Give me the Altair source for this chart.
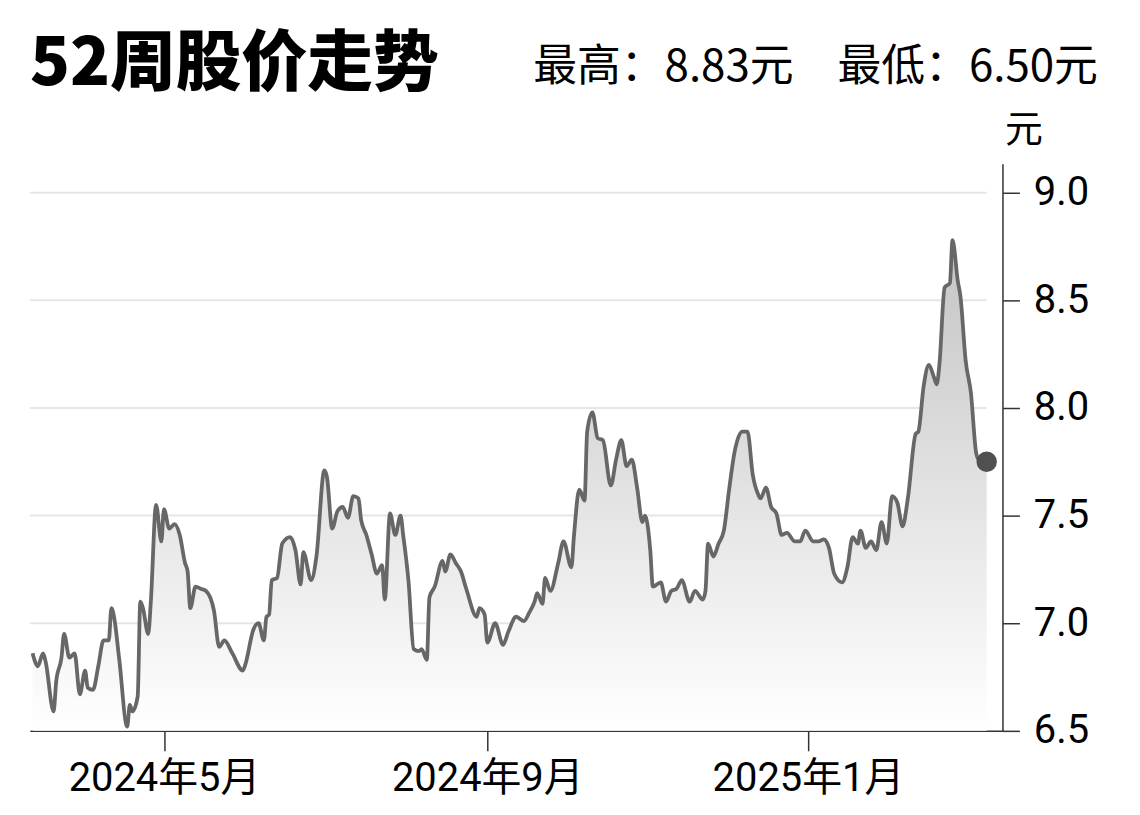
import altair as alt
import pandas as pd

# daily closes
dates = [
    "2024-03-12", "2024-03-13", "2024-03-14", "2024-03-16", "2024-03-17", "2024-03-20",
    "2024-03-21", "2024-03-23", "2024-03-24", "2024-03-26", "2024-03-28", "2024-03-30",
    "2024-04-01", "2024-04-02", "2024-04-04", "2024-04-06", "2024-04-08", "2024-04-10",
    "2024-04-11", "2024-04-12", "2024-04-14", "2024-04-17", "2024-04-18", "2024-04-19",
    "2024-04-21", "2024-04-22", "2024-04-23", "2024-04-25", "2024-04-26", "2024-04-28",
    "2024-04-30",
    "2024-05-01", "2024-05-03", "2024-05-05", "2024-05-07", "2024-05-09", "2024-05-10",
    "2024-05-11", "2024-05-13", "2024-05-15", "2024-05-17", "2024-05-20", "2024-05-22",
    "2024-05-24", "2024-05-27", "2024-05-31",
    "2024-06-01", "2024-06-04", "2024-06-06", "2024-06-08", "2024-06-09", "2024-06-10",
    "2024-06-11", "2024-06-13", "2024-06-15", "2024-06-18", "2024-06-20", "2024-06-22",
    "2024-06-23", "2024-06-26", "2024-06-28",
    "2024-07-01", "2024-07-02", "2024-07-04", "2024-07-06", "2024-07-08", "2024-07-10",
    "2024-07-12", "2024-07-14", "2024-07-15", "2024-07-17", "2024-07-19", "2024-07-21",
    "2024-07-23", "2024-07-24", "2024-07-26", "2024-07-28", "2024-07-30", "2024-07-31",
    "2024-08-02", "2024-08-04", "2024-08-06", "2024-08-07", "2024-08-09", "2024-08-10",
    "2024-08-12", "2024-08-15", "2024-08-16", "2024-08-18", "2024-08-20", "2024-08-22",
    "2024-08-24", "2024-08-28", "2024-08-29", "2024-08-31",
    "2024-09-01", "2024-09-04", "2024-09-07", "2024-09-09", "2024-09-12", "2024-09-15",
    "2024-09-17", "2024-09-19", "2024-09-20", "2024-09-22", "2024-09-23", "2024-09-25",
    "2024-09-28", "2024-09-30",
    "2024-10-03", "2024-10-04", "2024-10-06", "2024-10-08", "2024-10-09", "2024-10-11",
    "2024-10-13", "2024-10-15", "2024-10-18", "2024-10-20", "2024-10-22", "2024-10-24",
    "2024-10-26", "2024-10-28", "2024-10-30", "2024-10-31",
    "2024-11-02", "2024-11-03", "2024-11-06", "2024-11-08", "2024-11-10", "2024-11-12",
    "2024-11-14", "2024-11-17", "2024-11-19", "2024-11-22", "2024-11-23", "2024-11-24",
    "2024-11-26", "2024-11-28", "2024-11-30",
    "2024-12-02", "2024-12-04", "2024-12-07", "2024-12-09", "2024-12-11", "2024-12-13",
    "2024-12-14", "2024-12-16", "2024-12-18", "2024-12-20", "2024-12-22", "2024-12-24",
    "2024-12-27", "2024-12-29", "2024-12-31",
    "2025-01-03", "2025-01-05", "2025-01-07", "2025-01-09", "2025-01-11", "2025-01-14",
    "2025-01-16", "2025-01-18", "2025-01-20", "2025-01-21", "2025-01-23", "2025-01-25",
    "2025-01-27", "2025-01-29", "2025-01-31",
    "2025-02-02", "2025-02-04", "2025-02-06", "2025-02-08", "2025-02-11", "2025-02-12",
    "2025-02-14", "2025-02-16", "2025-02-18", "2025-02-19", "2025-02-20", "2025-02-22",
    "2025-02-24", "2025-02-25", "2025-02-27", "2025-02-28",
    "2025-03-02", "2025-03-04", "2025-03-06", "2025-03-07", "2025-03-10",
]
prices = [
    6.86, 6.82, 6.80, 6.86, 6.82, 6.59, 6.73, 6.84, 6.95, 6.84, 6.86, 6.67,
    6.78, 6.70, 6.69, 6.80, 6.92, 6.92, 7.07, 7.03, 6.83, 6.52, 6.62, 6.59,
    6.66, 7.10, 7.07, 6.95, 7.10, 7.55, 7.38,
    7.53, 7.44, 7.46, 7.41, 7.28, 7.24, 7.07, 7.17, 7.16, 7.15, 7.06, 6.89,
    6.92, 6.86, 6.78,
    6.81, 6.97, 7.00, 6.92, 7.03, 7.04, 7.20, 7.21, 7.37, 7.40, 7.34, 7.18,
    7.33, 7.20, 7.31,
    7.71, 7.68, 7.44, 7.52, 7.54, 7.49, 7.59, 7.58, 7.48, 7.41, 7.32, 7.23,
    7.27, 7.11, 7.51, 7.41, 7.50, 7.41,
    7.20, 6.88, 6.87, 6.88, 6.83, 7.12, 7.17, 7.29, 7.24, 7.32, 7.28, 7.24,
    7.16, 7.03, 7.07, 7.04,
    6.91, 7.00, 6.90, 6.96, 7.03, 7.01, 7.05, 7.10, 7.14, 7.09, 7.21, 7.15,
    7.28, 7.38,
    7.26, 7.41, 7.62, 7.57, 7.89, 7.98, 7.86, 7.85, 7.64, 7.76, 7.85, 7.73,
    7.76, 7.63, 7.47, 7.50,
    7.34, 7.17, 7.19, 7.10, 7.15, 7.16, 7.20, 7.10, 7.15, 7.11, 7.15, 7.37,
    7.31, 7.37, 7.43,
    7.62, 7.79, 7.89, 7.89, 7.69, 7.60, 7.58, 7.63, 7.54, 7.51, 7.41, 7.42,
    7.38, 7.38, 7.43,
    7.38, 7.38, 7.39, 7.35, 7.23, 7.19, 7.26, 7.40, 7.37, 7.43, 7.35, 7.38,
    7.34, 7.47, 7.37,
    7.59, 7.56, 7.45, 7.58, 7.88, 7.89, 8.10, 8.20, 8.14, 8.11, 8.20, 8.56,
    8.58, 8.78, 8.59, 8.52,
    8.22, 8.07, 7.79, 7.76, 7.75,
]

y_ticks = [6.5, 7.0, 7.5, 8.0, 8.5, 9.0]
grid_levels = [7.0, 7.5, 8.0, 8.5, 9.0]
x_ticks = [(2024, 5), (2024, 9), (2025, 1)]
high_price = 8.83
low_price = 6.50

FONT = "Roboto, 'Noto Sans CJK SC', sans-serif"
CJK = "'Noto Sans CJK SC', sans-serif"

df = pd.DataFrame({"date": dates, "price": prices})
grid = pd.DataFrame({"level": grid_levels, "start": "2024-03-11", "end": dates[-1]})
header = pd.DataFrame({
    "title": ["52周股价走势"],
    "label": [f"最高：{high_price:.2f}元　最低：{low_price:.2f}元"],
})

x_scale = alt.Scale(domain=[alt.DateTime(year=2024, month=3, date=11),
                            alt.DateTime(year=2025, month=3, date=16)])
y_scale = alt.Scale(domain=[6.5, 9.134], nice=False, zero=False)

x_axis = alt.Axis(
    values=[alt.DateTime(year=y, month=m, date=1) for y, m in x_ticks],
    format="%Y年%-m月", title=None, grid=False,
    domainColor="#333333", domainWidth=1.5,
    tickColor="#333333", tickWidth=1.5, tickSize=20,
    labelFont=FONT, labelFontSize=40, labelColor="black", labelPadding=8,
    labelLimit=0, labelOverlap=False,
)
y_axis = alt.Axis(
    orient="right", values=y_ticks, format=".1f", grid=False,
    domainColor="#333333", domainWidth=1.5,
    tickColor="#333333", tickWidth=1.5, tickSize=17,
    labelFont=FONT, labelFontSize=40, labelColor="black", labelPadding=14,
    labelLimit=0,
    title="元", titleAngle=0, titleAlign="left", titleBaseline="bottom",
    titleX=2, titleY=-14, titleFont=CJK, titleFontSize=38,
    titleFontWeight="normal", titleColor="black",
)

rules = alt.Chart(grid).mark_rule(color="#e6e6e6", strokeWidth=2).encode(
    x=alt.X("start:T", scale=x_scale, axis=x_axis),
    x2="end:T",
    y=alt.Y("level:Q", scale=y_scale, axis=y_axis),
)

area = alt.Chart(df).mark_area(
    interpolate="monotone",
    color=alt.Gradient(
        gradient="linear",
        stops=[alt.GradientStop(color="#c4c4c4", offset=0),
               alt.GradientStop(color="#ffffff", offset=1)],
        x1=1, x2=1, y1=0, y2=1,
    ),
).encode(
    x=alt.X("date:T", scale=x_scale, axis=x_axis),
    y=alt.Y("price:Q", scale=y_scale, axis=y_axis),
    y2=alt.datum(6.5),
)

line = alt.Chart(df).mark_line(
    color="#676767", strokeWidth=3.8, interpolate="monotone"
).encode(
    x="date:T",
    y="price:Q",
)

last_point = alt.Chart(df.tail(1)).mark_circle(color="#505050", size=420, opacity=1).encode(
    x="date:T",
    y="price:Q",
)

title = alt.Chart(header).mark_text(
    align="left", baseline="alphabetic", font=CJK, fontSize=66,
    fontWeight=900, color="black",
).encode(
    text="title:N",
    x=alt.value(0),
    y=alt.value(-79),
)

sub = alt.Chart(header).mark_text(
    align="left", baseline="alphabetic", font=CJK, fontSize=44, color="black"
).encode(
    text="label:N",
    x=alt.value(505),
    y=alt.value(-83),
)

chart = alt.layer(rules, area, line, last_point, title, sub).properties(
    width=976,
    height=569,
    autosize=alt.AutoSizeParams(type="none"),
    padding={"left": 22, "top": 155, "right": 130, "bottom": 75},
).configure_view(stroke=None)

chart.save("out.html", embed_options={"renderer": "svg", "actions": False})
